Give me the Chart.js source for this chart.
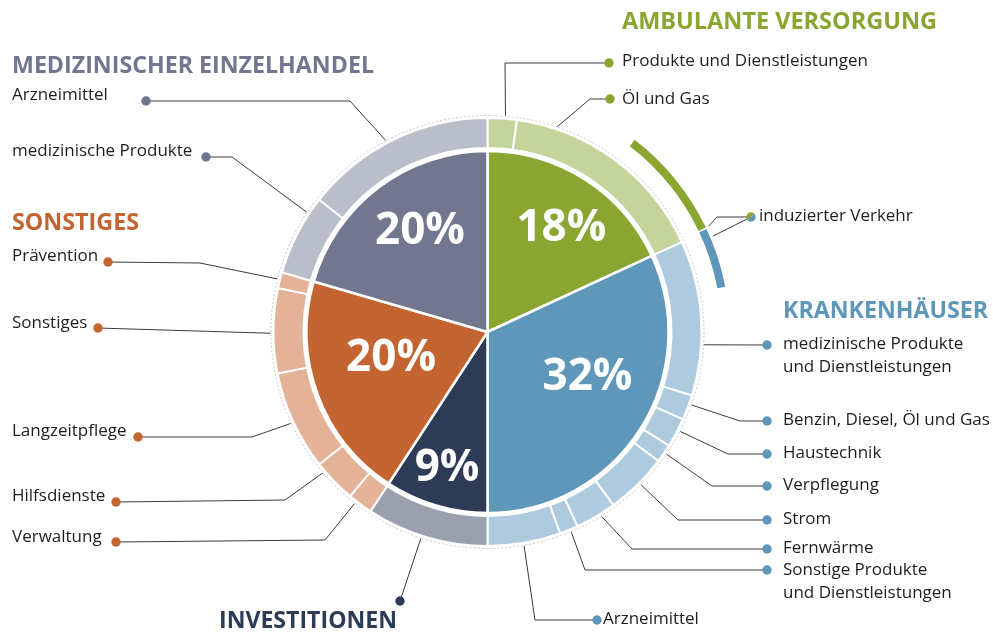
<!DOCTYPE html>
<html>
<head>
<meta charset="utf-8">
<script src="https://cdn.jsdelivr.net/npm/chart.js@4.4.0/dist/chart.umd.min.js"></script>
<style>
    html, body { margin: 0; padding: 0; background: #fff; }
    #wrap { width: 993px; height: 632px; }
</style>
</head>
<body>
<div id="wrap"><canvas id="chart" width="993" height="632"></canvas></div>
<script>
// main sectors (inner pie), clockwise from the top
var mainLabels = ['Ambulante Versorgung', 'Krankenhäuser', 'Investitionen', 'Sonstiges', 'Medizinischer Einzelhandel'];
var mainValues = [18.1, 31.9, 9.2, 20.3, 20.5];
var mainText = ['18%', '32%', '9%', '20%', '20%'];

// sub categories (outer ring), same order
var subLabels = ['Produkte und Dienstleistungen', 'Öl und Gas',
    'medizinische Produkte und Dienstleistungen', 'Benzin, Diesel, Öl und Gas', 'Haustechnik', 'Verpflegung',
    'Strom', 'Fernwärme', 'Sonstige Produkte und Dienstleistungen', 'Arzneimittel',
    'Investitionen',
    'Verwaltung', 'Hilfsdienste', 'Langzeitpflege', 'Sonstiges', 'Prävention',
    'medizinische Produkte', 'Arzneimittel'];
var subValues = [2.2, 15.9, 11.7, 1.9, 2.2, 1.4, 4.7, 3.1, 1.4, 5.5, 9.2, 1.9, 3.3, 7.5, 6.4, 1.2, 6.1, 14.4];
var subGroup = [0, 0, 1, 1, 1, 1, 1, 1, 1, 1, 2, 3, 3, 3, 3, 3, 4, 4];

// induzierter Verkehr (outer arcs): gap, ambulant part, gap, hospital part, rest
var inducedValues = [10.4, 7.5, 0.1, 4.0, 78.0];

var mainColors = ['#8aa631', '#5f97bb', '#2e3b57', '#c46431', '#72778f'];
var ringColors = ['#c4d49b', '#aecade', '#9aa0ae', '#e3b297', '#babdca'];
var dotColors = ['#8aa631', '#5f97bb', '#2e3b57', '#c46431', '#6f7590'];
var clear = 'rgba(0,0,0,0)';

var labelFont = '17px "Open Sans"';
var textSqueeze = 1.0;

// callout layout: ring index, where on the segment, elbow, dot, text
var callouts = [
    {i: 0, frac: 0.6, elbow: [505, 63], dot: [609, 63], text: [622, 61]},
    {i: 1, frac: 0.19, elbow: [590, 99], dot: [610, 99], text: [622, 99]},
    {i: 2, frac: 0.67, dot: [767, 345], text: [783, 344], lines: ['medizinische Produkte', 'und Dienstleistungen']},
    {i: 3, frac: 0.35, elbow: [740, 421], dot: [767, 421], text: [783, 420]},
    {i: 4, frac: 0.4, elbow: [728, 454], dot: [767, 454], text: [783, 453]},
    {i: 5, frac: 0.45, elbow: [712, 486], dot: [767, 486], text: [783, 485]},
    {i: 6, frac: 0.46, elbow: [678, 520], dot: [767, 520], text: [783, 519]},
    {i: 7, frac: 0.38, elbow: [632, 549], dot: [767, 549], text: [783, 548]},
    {i: 8, frac: 0.42, elbow: [585, 570], dot: [767, 570], text: [783, 570], lines: ['Sonstige Produkte', 'und Dienstleistungen']},
    {i: 9, frac: 0.51, elbow: [535, 620], dot: [597, 620], text: [603, 619]},
    {i: 10, frac: 0.54, dot: [400, 601]},
    {i: 11, frac: 0.68, elbow: [325, 540], dot: [116, 542], text: [12, 537]},
    {i: 12, frac: 0.8, elbow: [285, 500], dot: [116, 502], text: [12, 496]},
    {i: 13, frac: 0.49, elbow: [252, 437], dot: [138, 437], text: [12, 431]},
    {i: 14, frac: 0.47, dot: [98, 328], text: [12, 323]},
    {i: 15, frac: 0.53, elbow: [200, 263], dot: [108, 262], text: [12, 256]},
    {i: 16, frac: 0.79, elbow: [232, 157], dot: [206, 157], text: [12, 151]},
    {i: 17, frac: 0.46, elbow: [350, 101], dot: [146, 101], text: [12, 95]}
];

var titles = [
    {text: 'AMBULANTE VERSORGUNG', x: 622, y: 29, w: 315, color: '#8aa631'},
    {text: 'MEDIZINISCHER EINZELHANDEL', x: 12, y: 73, w: 362, color: '#72778f'},
    {text: 'SONSTIGES', x: 12, y: 230, w: 127, color: '#c46431'},
    {text: 'KRANKENHÄUSER', x: 783, y: 318, w: 205, color: '#5f97bb'},
    {text: 'INVESTITIONEN', x: 219, y: 628, w: 178, color: '#2e3b57'}
];

// where the percentages sit inside the pie (radius, angle shift in degrees)
var pctPlace = [{r: 127, da: 3}, {r: 110, da: -8}, {r: 142, da: 0}, {r: 100, da: 5}, {r: 121, da: 3}];

function squeezeText(ctx, text, x, y) {
    ctx.fillText(text, x, y, ctx.measureText(text).width * textSqueeze);
}

function dot(ctx, x, y, color) {
    ctx.fillStyle = color;
    ctx.beginPath();
    ctx.arc(x, y, 4.7, 0, Math.PI * 2);
    ctx.fill();
}

var calloutPlugin = {
    id: 'callouts',
    afterDatasetsDraw: function (chart) {
        var ctx = chart.ctx;
        var induced = chart.getDatasetMeta(0).data;
        var ring = chart.getDatasetMeta(2).data;
        var pie = chart.getDatasetMeta(4).data;
        var cx = pie[0].x, cy = pie[0].y;

        ctx.save();
        // thin dotted outline round the ring
        ctx.strokeStyle = '#c8c8c8';
        ctx.lineWidth = 1;
        ctx.setLineDash([2, 2]);
        ctx.beginPath();
        ctx.arc(cx, cy, ring[0].outerRadius + 2.5, 0, Math.PI * 2);
        ctx.stroke();
        ctx.setLineDash([]);

        // percentages
        ctx.fillStyle = '#fff';
        ctx.font = 'bold 44px "Open Sans"';
        ctx.textAlign = 'center';
        ctx.textBaseline = 'middle';
        pie.forEach(function (arc, k) {
            var a = (arc.startAngle + arc.endAngle) / 2 + pctPlace[k].da * Math.PI / 180;
            ctx.fillText(mainText[k], cx + Math.cos(a) * pctPlace[k].r, cy + Math.sin(a) * pctPlace[k].r);
        });

        // leader lines, dots and labels
        ctx.font = labelFont;
        ctx.textAlign = 'left';
        callouts.forEach(function (c) {
            var arc = ring[c.i];
            var a = arc.startAngle + c.frac * (arc.endAngle - arc.startAngle);
            var r = arc.outerRadius + 3;
            ctx.strokeStyle = '#3a3a3a';
            ctx.lineWidth = 1;
            ctx.beginPath();
            ctx.moveTo(cx + Math.cos(a) * r, cy + Math.sin(a) * r);
            if (c.elbow) ctx.lineTo(c.elbow[0], c.elbow[1]);
            ctx.lineTo(c.dot[0], c.dot[1]);
            ctx.stroke();
            dot(ctx, c.dot[0], c.dot[1], dotColors[subGroup[c.i]]);
            if (c.text) {
                ctx.fillStyle = '#1e1e1e';
                var lines = c.lines || [subLabels[c.i]];
                lines.forEach(function (t, n) {
                    squeezeText(ctx, t, c.text[0], c.text[1] + n * 23);
                });
            }
        });

        // induzierter Verkehr
        var g = induced[1], b = induced[3];
        var ro = g.outerRadius + 3;
        var dx = 751, dy = 217;
        ctx.strokeStyle = '#3a3a3a';
        ctx.beginPath();
        ctx.moveTo(cx + Math.cos(g.endAngle) * ro, cy + Math.sin(g.endAngle) * ro);
        ctx.lineTo(717, 217);
        ctx.lineTo(dx, dy);
        var ab = b.startAngle + 0.15 * (b.endAngle - b.startAngle);
        ctx.moveTo(cx + Math.cos(ab) * ro, cy + Math.sin(ab) * ro);
        ctx.lineTo(dx, dy);
        ctx.stroke();
        ctx.fillStyle = dotColors[0];
        ctx.beginPath();
        ctx.arc(dx, dy, 4.7, Math.PI * 0.75, Math.PI * 1.75);
        ctx.fill();
        ctx.fillStyle = dotColors[1];
        ctx.beginPath();
        ctx.arc(dx, dy, 4.7, -Math.PI * 0.25, Math.PI * 0.75);
        ctx.fill();
        ctx.fillStyle = '#1e1e1e';
        squeezeText(ctx, 'induzierter Verkehr', 759, 216);

        // group titles
        ctx.textBaseline = 'alphabetic';
        ctx.font = 'bold 24px "Open Sans"';
        titles.forEach(function (t) {
            ctx.fillStyle = t.color;
            ctx.fillText(t.text, t.x, t.y, t.w);
        });
        ctx.restore();
    }
};

var ctx = document.getElementById('chart');
var myChart = new Chart(ctx, {
    type: 'doughnut',
    data: {
        labels: subLabels,
        datasets: [
            {
                label: 'induzierter Verkehr',
                data: inducedValues,
                backgroundColor: [clear, mainColors[0], clear, mainColors[1], clear],
                borderWidth: 0,
                weight: 8
            },
            {
                label: 'spacer',
                data: [1],
                backgroundColor: clear,
                borderWidth: 0,
                weight: 20
            },
            {
                label: 'Unterkategorien',
                data: subValues,
                backgroundColor: subGroup.map(function (gi) { return ringColors[gi]; }),
                borderColor: '#fff',
                borderWidth: 2,
                weight: 30
            },
            {
                label: 'spacer',
                data: [1],
                backgroundColor: clear,
                borderWidth: 0,
                weight: 3
            },
            {
                label: 'Sektoren',
                data: mainValues,
                backgroundColor: mainColors,
                borderColor: '#fff',
                borderWidth: 2.5,
                weight: 181
            }
        ]
    },
    options: {
        responsive: false,
        animation: false,
        events: [],
        cutout: 0,
        radius: 242,
        layout: {padding: {left: 10, right: 28, top: 42, bottom: 10}},
        plugins: {
            legend: {display: false},
            tooltip: {enabled: false}
        }
    },
    plugins: [calloutPlugin]
});
</script>
</body>
</html>
